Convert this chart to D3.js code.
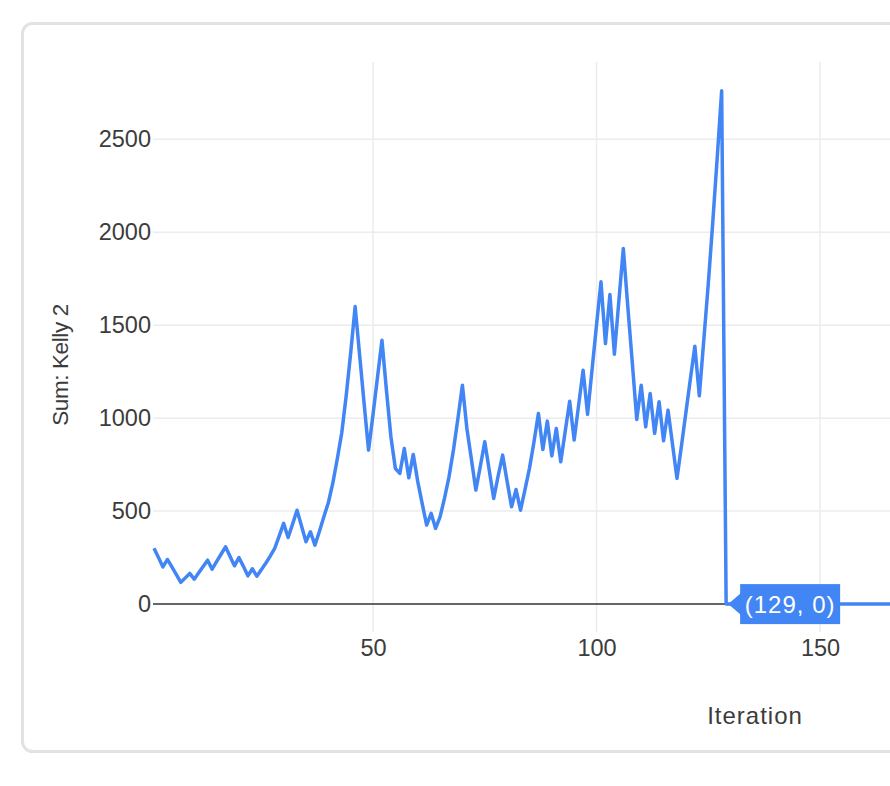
<!DOCTYPE html>
<html>
<head>
<meta charset="utf-8">
<script src="https://cdn.jsdelivr.net/npm/d3@7"></script>
<style>
  body { margin: 0; background: #fff; }
  text { font-family: "Liberation Sans", Arial, sans-serif; fill: #3c3c3c; }
</style>
</head>
<body>
<div class="main"></div>
<script>
// values, iteration 1..129
var kelly = [300,250,200,240,200,158,117,141,165,134,
             168,202,236,188,228,268,308,257,206,250,
             203,152,190,150,185,220,258,300,365,434,
             358,430,505,420,335,389,317,390,470,545,
             650,780,920,1120,1350,1600,1340,1080,828,1020,
             1220,1419,1150,900,729,703,837,679,805,660,
             540,425,488,407,469,570,684,830,1000,1177,
             944,780,613,740,873,720,568,690,801,660,
             523,616,505,615,730,870,1025,831,984,797,
             944,765,930,1091,882,1070,1258,1020,1260,1500,
             1733,1401,1665,1344,1630,1912,1600,1300,993,1177,
             953,1133,918,1088,878,1043,860,676,850,1030,
             1210,1387,1120,1420,1720,2050,2400,2760,0];
// after 129 the sum stays at zero
var tail = [0,0,0,0,0,0,0,0,0,0,0,0,0,0,0,0,0,0,0,0,
            0,0,0,0,0,0,0,0,0,0,0,0,0,0,0,0,0,0,0,0,0];
var yTicks = [0,500,1000,1500,2000,2500];
var xTicks = [50,100,150];
var calloutIter = 129, calloutValue = 0;

var values = kelly.concat(tail);
var data = values.map(function(v,i){ return {it:i+1, v:v}; });

var W=890, H=786;
var svg=d3.select('.main').append('svg')
          .attr('width',W)
          .attr('height',H);

// card
svg.append('rect')
   .attr('x',22.5).attr('y',23.5)
   .attr('width',1000).attr('height',728)
   .attr('rx',10)
   .attr('fill','#fff')
   .attr('stroke','#e2e2e2')
   .attr('stroke-width',3);

var x=d3.scaleLinear().domain([1,150]).range([154,820]);
var y=d3.scaleLinear().domain([-150,2915]).range([632,62]);

// gridlines
svg.append('g').selectAll('line')
   .data(yTicks.filter(function(d){return d!==0;}))
   .enter().append('line')
   .attr('x1',153).attr('x2',W)
   .attr('y1',function(d){return y(d);}).attr('y2',function(d){return y(d);})
   .attr('stroke','#ececec').attr('stroke-width',1.5);

svg.append('g').selectAll('line')
   .data(xTicks)
   .enter().append('line')
   .attr('x1',function(d){return x(d);}).attr('x2',function(d){return x(d);})
   .attr('y1',62).attr('y2',632)
   .attr('stroke','#ececec').attr('stroke-width',1.5);

// baseline
svg.append('line')
   .attr('x1',153).attr('x2',W)
   .attr('y1',y(0)).attr('y2',y(0))
   .attr('stroke','#333').attr('stroke-width',1.5);

// axes
var yAxis=d3.axisLeft(y).tickValues(yTicks).tickSize(0).tickPadding(0).tickFormat(d3.format('d'));
var yG=svg.append('g').attr('transform','translate(151,0)').call(yAxis);
var xAxis=d3.axisBottom(x).tickValues(xTicks).tickSize(0).tickPadding(0).tickFormat(d3.format('d'));
var xG=svg.append('g').attr('transform','translate(0,639)').call(xAxis);
[yG,xG].forEach(function(g){
  g.select('.domain').remove();
  g.selectAll('text').style('font-size','23.5px').attr('fill','#3c3c3c')
   .style('font-family','"Liberation Sans", Arial, sans-serif');
});

// line
var line=d3.line()
    .x(function(d){return x(d.it);})
    .y(function(d){return y(d.v);});
svg.append('path')
   .datum(data)
   .attr('d',line)
   .attr('fill','none')
   .attr('stroke','#4285f4')
   .attr('stroke-width',3.5)
   .attr('stroke-linejoin','round');

// callout
var cx=x(calloutIter), cy=y(calloutValue);
var callout=svg.append('g');
callout.append('path')
   .attr('d','M'+(cx+2)+','+cy+' L'+(cx+15)+','+(cy-11)+' L'+(cx+15)+','+(cy+11)+' Z')
   .attr('fill','#4285f4');
callout.append('rect')
   .attr('x',cx+14).attr('y',cy-20)
   .attr('width',100).attr('height',40)
   .attr('fill','#4285f4');
callout.append('text')
   .attr('x',cx+64).attr('y',cy)
   .attr('dy','0.35em')
   .attr('text-anchor','middle')
   .style('font-size','24px')
   .style('letter-spacing','1px')
   .style('fill','#fff')
   .text('('+calloutIter+', '+calloutValue+')');

// axis titles
svg.append('text')
   .attr('x',755).attr('y',716)
   .attr('dy','0.35em')
   .attr('text-anchor','middle')
   .style('font-size','24px')
   .style('letter-spacing','1px')
   .text('Iteration');

svg.append('text')
   .attr('transform','translate(60,365) rotate(-90)')
   .attr('dy','0.35em')
   .attr('text-anchor','middle')
   .style('font-size','22.5px')
   .style('letter-spacing','-0.4px')
   .text('Sum: Kelly 2');
</script>
</body>
</html>
